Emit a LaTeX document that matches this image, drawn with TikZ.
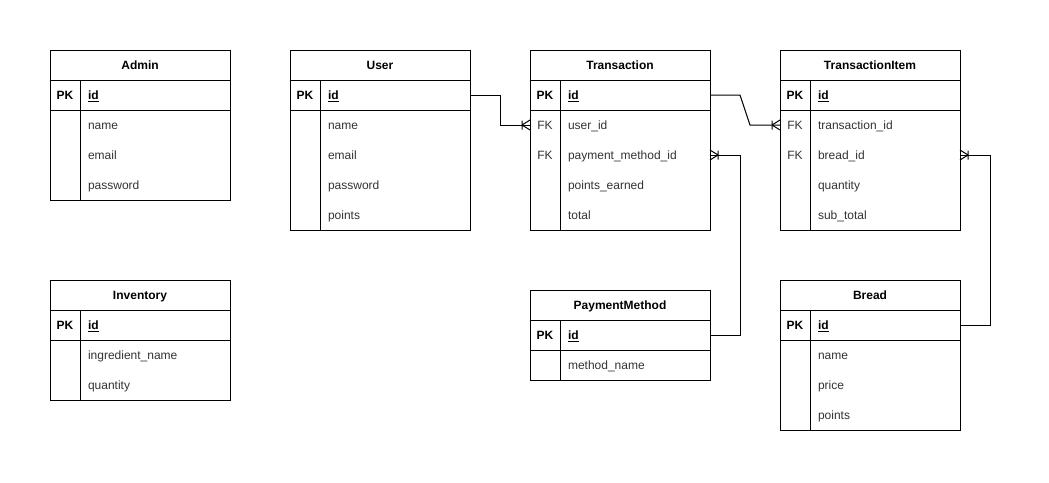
\documentclass[tikz,border=0pt]{standalone}
\usepackage{fontspec}
\setmainfont{Liberation Sans}
\begin{document}
\begin{tikzpicture}[x=0.75pt,y=-0.75pt,
  line width=0.75pt,
  every node/.style={inner sep=0pt,outer sep=0pt,font=\fontsize{9}{11}\selectfont},
  txt/.style={text height=7.3pt,text depth=1.2pt},
  hdr/.style={draw,txt,minimum width=135pt,minimum height=22.5pt,font=\fontsize{9}{11}\selectfont\bfseries},
  pkrow/.style={draw,minimum width=135pt,minimum height=22.5pt},
  row/.style={minimum width=135pt,minimum height=22.5pt},
  keyc/.style={txt,text=black!80},
  pkc/.style={txt,font=\fontsize{9}{11}\selectfont\bfseries},
  fld/.style={txt,anchor=west,text=black!80},
  pkf/.style={txt,anchor=west,font=\fontsize{9}{11}\selectfont\bfseries},
  conn/.style={line width=0.75pt},
  crow/.pic={\draw[conn] (-8,0) -- (0,-5) (-8,0) -- (0,5) (-8,-4.5) -- (-8,4.5);}
]
\useasboundingbox (0,0) rectangle (1049,482);
\newcommand{\ertab}[6]{%
  \node[hdr] (#1) at (#2+90,#3+15) {#4};
  \node[pkrow] (#1-id) at (#2+90,#3+45) {};
  \node[pkc] at (#2+15,#3+45) {PK};
  \node[pkf] at (#2+38,#3+45) {\underline{id}};
  \foreach \k/\f/\n [count=\i] in {#6} {
    \node[row] (#1-\n) at (#2+90,#3+45+30*\i) {};
    \node[keyc] at (#2+15,#3+45+30*\i) {\k};
    \node[fld] at (#2+38,#3+45+30*\i) {\f};
  }
  \draw (#2,#3+60) rectangle (#2+180,#3+60+30*#5);
  \draw (#2+30,#3+30) -- (#2+30,#3+60+30*#5);
}
\ertab{admin}{50}{50}{Admin}{3}{/name/name, /email/email, /password/password}
\ertab{user}{290}{50}{User}{4}{/name/name, /email/email, /password/password, /points/points}
\ertab{trans}{530}{50}{Transaction}{4}{FK/user\_id/uid, FK/payment\_method\_id/pmid, /points\_earned/pe, /total/total}
\ertab{ti}{780}{50}{TransactionItem}{4}{FK/transaction\_id/tid, FK/bread\_id/bid, /quantity/qty, /sub\_total/st}
\ertab{inv}{50}{280}{Inventory}{2}{/ingredient\_name/iname, /quantity/qty}
\ertab{pm}{530}{290}{PaymentMethod}{1}{/method\_name/mname}
\ertab{bread}{780}{280}{Bread}{3}{/name/name, /price/price, /points/points}
% connectors
\draw[conn] (user-id.east) -- ++(30,0) |- (trans-uid.west);
\pic at (trans-uid.west) {crow};
\draw[conn] (trans-id.east) -- ++(30,0) -- ([xshift=-22.5pt]ti-tid.west) -- (ti-tid.west);
\pic at (ti-tid.west) {crow};
\draw[conn] (pm-id.east) -- ++(30,0) |- (trans-pmid.east);
\pic[rotate=180] at (trans-pmid.east) {crow};
\draw[conn] (bread-id.east) -- ++(30,0) |- (ti-bid.east);
\pic[rotate=180] at (ti-bid.east) {crow};
\end{tikzpicture}
\end{document}
